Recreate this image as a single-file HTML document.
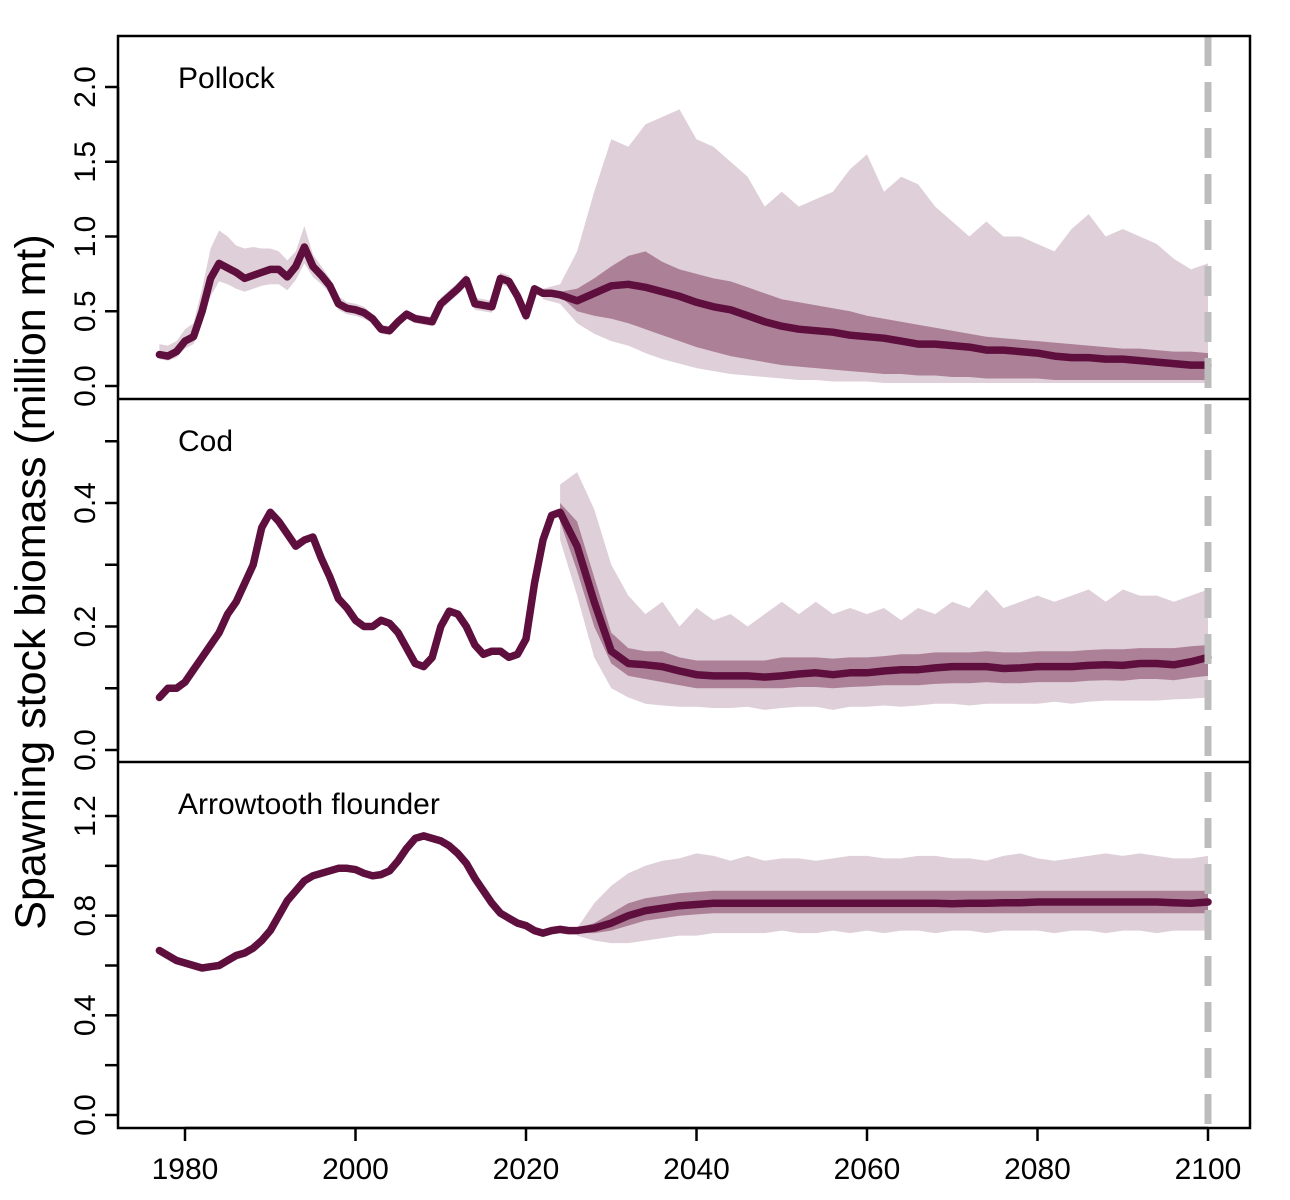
<!DOCTYPE html>
<html><head><meta charset="utf-8">
<style>
html,body{margin:0;padding:0;background:#fff;}
svg{display:block;font-family:"Liberation Sans",Arial,sans-serif;}
</style></head>
<body>
<svg id="chart" width="1290" height="1200" viewBox="0 0 1290 1200" xmlns="http://www.w3.org/2000/svg"></svg>
<script>
// ---- data ----
const histYears = [];
for (let y = 1977; y <= 2024; y++) histYears.push(y);
const projYearsP = []; for (let y = 2022; y <= 2100; y += 2) projYearsP.push(y);
const projYearsC = []; for (let y = 2024; y <= 2100; y += 2) projYearsC.push(y);
const arrowHistYears = []; for (let y = 1977; y <= 2026; y++) arrowHistYears.push(y);
const projYearsA = []; for (let y = 2026; y <= 2100; y += 2) projYearsA.push(y);

const pollockHist = [0.21,0.2,0.23,0.3,0.33,0.5,0.72,0.82,0.79,0.76,0.72,0.74,0.76,0.78,0.78,0.73,0.8,0.93,0.8,0.74,0.67,0.55,0.52,0.51,0.49,0.45,0.38,0.37,0.43,0.48,0.45,0.44,0.43,0.55,0.6,0.65,0.71,0.55,0.54,0.53,0.72,0.7,0.6,0.47,0.65,0.62,0.62,0.61];
const pollockHistHi = [0.28,0.27,0.3,0.38,0.42,0.65,0.92,1.04,1.0,0.94,0.92,0.93,0.92,0.92,0.9,0.84,0.9,1.07,0.88,0.8,0.72,0.6,0.56,0.55,0.53,0.48,0.41,0.4,0.46,0.51,0.48,0.47,0.46,0.59,0.64,0.69,0.75,0.59,0.58,0.57,0.76,0.74,0.64,0.51,0.67,0.64,0.64,0.63];
const pollockHistLo = [0.18,0.17,0.19,0.25,0.28,0.42,0.6,0.7,0.68,0.65,0.63,0.65,0.67,0.68,0.68,0.64,0.71,0.82,0.73,0.68,0.62,0.51,0.48,0.47,0.45,0.42,0.35,0.34,0.4,0.45,0.42,0.41,0.4,0.51,0.56,0.61,0.67,0.51,0.5,0.49,0.68,0.66,0.56,0.43,0.63,0.6,0.6,0.59];
const pollockMed = [0.62,0.61,0.57,0.62,0.67,0.68,0.66,0.63,0.6,0.56,0.53,0.51,0.47,0.43,0.4,0.38,0.37,0.36,0.34,0.33,0.32,0.3,0.28,0.28,0.27,0.26,0.24,0.24,0.23,0.22,0.2,0.19,0.19,0.18,0.18,0.17,0.16,0.15,0.14,0.14];
const pollockHi95 = [0.65,0.68,0.9,1.3,1.65,1.6,1.75,1.8,1.85,1.65,1.6,1.5,1.4,1.2,1.3,1.2,1.25,1.3,1.45,1.55,1.3,1.4,1.35,1.2,1.1,1.0,1.1,1.0,1.0,0.95,0.9,1.05,1.15,1.0,1.05,1.0,0.95,0.85,0.78,0.82];
const pollockHi50 = [0.63,0.63,0.65,0.72,0.8,0.87,0.9,0.83,0.78,0.75,0.72,0.7,0.66,0.62,0.58,0.56,0.54,0.52,0.5,0.47,0.45,0.43,0.41,0.39,0.37,0.35,0.33,0.32,0.31,0.3,0.29,0.28,0.27,0.26,0.25,0.25,0.24,0.23,0.23,0.22];
const pollockLo50 = [0.6,0.6,0.5,0.47,0.45,0.42,0.38,0.34,0.3,0.26,0.23,0.2,0.18,0.16,0.14,0.13,0.12,0.11,0.1,0.09,0.08,0.08,0.07,0.07,0.06,0.06,0.05,0.05,0.05,0.05,0.04,0.04,0.04,0.04,0.04,0.04,0.04,0.04,0.04,0.04];
const pollockLo95 = [0.58,0.55,0.42,0.35,0.3,0.27,0.22,0.18,0.15,0.12,0.1,0.08,0.07,0.06,0.05,0.04,0.04,0.03,0.03,0.03,0.02,0.02,0.02,0.02,0.02,0.02,0.02,0.02,0.02,0.02,0.02,0.02,0.02,0.02,0.02,0.02,0.02,0.02,0.02,0.02];

const codHist = [0.085,0.1,0.1,0.11,0.13,0.15,0.17,0.19,0.22,0.24,0.27,0.3,0.36,0.385,0.37,0.35,0.33,0.34,0.345,0.31,0.28,0.245,0.23,0.21,0.2,0.2,0.21,0.205,0.19,0.165,0.14,0.135,0.15,0.2,0.225,0.22,0.2,0.17,0.155,0.16,0.16,0.15,0.155,0.18,0.27,0.34,0.38,0.385];
const codMed = [0.385,0.33,0.24,0.16,0.14,0.138,0.135,0.128,0.122,0.12,0.12,0.12,0.118,0.12,0.123,0.125,0.122,0.125,0.125,0.128,0.13,0.13,0.133,0.135,0.135,0.135,0.132,0.133,0.135,0.135,0.135,0.137,0.138,0.137,0.14,0.14,0.138,0.143,0.15];
const codHi95 = [0.43,0.45,0.39,0.3,0.25,0.22,0.24,0.2,0.23,0.21,0.22,0.2,0.22,0.24,0.22,0.24,0.22,0.23,0.22,0.23,0.21,0.23,0.22,0.24,0.23,0.26,0.23,0.24,0.25,0.24,0.25,0.26,0.24,0.26,0.25,0.25,0.24,0.25,0.26];
const codHi50 = [0.4,0.37,0.28,0.19,0.165,0.16,0.16,0.15,0.145,0.145,0.145,0.145,0.145,0.15,0.15,0.15,0.148,0.15,0.15,0.152,0.155,0.155,0.158,0.158,0.158,0.16,0.158,0.158,0.16,0.16,0.16,0.162,0.163,0.163,0.165,0.165,0.165,0.168,0.17];
const codLo50 = [0.37,0.29,0.2,0.14,0.12,0.115,0.11,0.105,0.1,0.1,0.1,0.1,0.1,0.1,0.102,0.102,0.1,0.102,0.103,0.105,0.105,0.105,0.107,0.108,0.108,0.11,0.108,0.108,0.11,0.11,0.11,0.112,0.113,0.112,0.115,0.115,0.113,0.117,0.12];
const codLo95 = [0.34,0.25,0.15,0.1,0.085,0.075,0.072,0.07,0.07,0.068,0.068,0.07,0.065,0.068,0.07,0.07,0.065,0.07,0.07,0.072,0.07,0.072,0.075,0.075,0.072,0.075,0.075,0.075,0.075,0.078,0.075,0.078,0.08,0.08,0.08,0.08,0.082,0.083,0.085];

const arrowHist = [0.66,0.64,0.62,0.61,0.6,0.59,0.595,0.6,0.62,0.64,0.65,0.67,0.7,0.74,0.8,0.86,0.9,0.94,0.96,0.97,0.98,0.99,0.99,0.985,0.97,0.96,0.965,0.98,1.02,1.07,1.11,1.12,1.11,1.1,1.08,1.05,1.01,0.95,0.9,0.85,0.81,0.79,0.77,0.76,0.74,0.73,0.74,0.745,0.74,0.74];
const arrowMed = [0.74,0.75,0.77,0.8,0.82,0.83,0.84,0.845,0.85,0.85,0.85,0.85,0.85,0.85,0.85,0.85,0.85,0.85,0.85,0.85,0.85,0.85,0.848,0.85,0.85,0.852,0.852,0.855,0.855,0.855,0.855,0.855,0.855,0.855,0.855,0.852,0.85,0.855];
const arrowHi95 = [0.75,0.85,0.92,0.97,1.0,1.02,1.03,1.05,1.04,1.02,1.04,1.02,1.03,1.03,1.02,1.03,1.04,1.04,1.03,1.03,1.04,1.04,1.03,1.03,1.02,1.04,1.05,1.03,1.02,1.03,1.04,1.05,1.04,1.05,1.04,1.03,1.03,1.04];
const arrowHi50 = [0.75,0.77,0.81,0.85,0.87,0.88,0.89,0.895,0.9,0.9,0.9,0.9,0.9,0.9,0.9,0.9,0.9,0.9,0.9,0.9,0.9,0.9,0.9,0.9,0.9,0.9,0.9,0.9,0.9,0.9,0.9,0.9,0.9,0.9,0.9,0.9,0.9,0.9];
const arrowLo50 = [0.73,0.73,0.74,0.76,0.78,0.79,0.8,0.805,0.81,0.81,0.81,0.81,0.81,0.81,0.81,0.81,0.81,0.81,0.81,0.81,0.81,0.81,0.81,0.81,0.81,0.81,0.81,0.81,0.81,0.81,0.81,0.81,0.81,0.81,0.81,0.81,0.81,0.81];
const arrowLo95 = [0.72,0.7,0.69,0.69,0.7,0.71,0.72,0.72,0.73,0.73,0.73,0.73,0.74,0.73,0.73,0.74,0.73,0.74,0.73,0.74,0.74,0.73,0.74,0.74,0.73,0.74,0.74,0.74,0.73,0.74,0.74,0.73,0.74,0.74,0.73,0.74,0.74,0.74];

const xTicks = [1980,2000,2020,2040,2060,2080,2100];

// ---- layout ----
const NS = "http://www.w3.org/2000/svg";
const svg = document.getElementById('chart');
const X0 = 118, X1 = 1250;
const xs = yr => 185 + (yr - 1980) * (1208 - 185) / 120;
function el(tag, attrs, parent) {
  const e = document.createElementNS(NS, tag);
  for (const k in attrs) e.setAttribute(k, attrs[k]);
  (parent || svg).appendChild(e);
  return e;
}
const panels = [
  {name:'pollock', label:'Pollock', top:36, bot:399, y0:386, perUnit:(386-87)/2.0, ticks:[0,0.5,1,1.5,2], labels:[0,0.5,1,1.5,2],
   hy:histYears, hv:pollockHist, hhi:pollockHistHi, hlo:pollockHistLo, py:projYearsP, med:pollockMed, hi95:pollockHi95, hi50:pollockHi50, lo50:pollockLo50, lo95:pollockLo95},
  {name:'cod', label:'Cod', top:399, bot:762, y0:750, perUnit:(750-503)/0.4, ticks:[0,0.1,0.2,0.3,0.4,0.5], labels:[0,0.2,0.4],
   hy:histYears, hv:codHist, py:projYearsC, med:codMed, hi95:codHi95, hi50:codHi50, lo50:codLo50, lo95:codLo95},
  {name:'arrowtooth', label:'Arrowtooth flounder', top:762, bot:1128, y0:1115, perUnit:(1115-816)/1.2, ticks:[0,0.2,0.4,0.6,0.8,1.0,1.2], labels:[0,0.4,0.8,1.2],
   hy:arrowHistYears, hv:arrowHist, py:projYearsA, med:arrowMed, hi95:arrowHi95, hi50:arrowHi50, lo50:arrowLo50, lo95:arrowLo95}
];

panels.forEach(p => {
  const g = el('g', {});
  
  
  const ys = v => p.y0 - v * p.perUnit;
  const clipId = 'clip-' + p.name;
  const cp = el('clipPath', {id: clipId}, g);
  el('rect', {x:X0, y:p.top, width:X1-X0, height:p.bot-p.top}, cp);
  const plot = el('g', {'clip-path':'url(#'+clipId+')'}, g);
  function band(yrs, lo, hi, fill, nm) {
    let d = '';
    yrs.forEach((yr, i) => { d += (i ? 'L' : 'M') + xs(yr).toFixed(1) + ',' + ys(hi[i]).toFixed(1); });
    for (let i = yrs.length - 1; i >= 0; i--) d += 'L' + xs(yrs[i]).toFixed(1) + ',' + ys(lo[i]).toFixed(1);
    const b = el('path', {d: d + 'Z', fill: fill}, plot);
    
    
  }
  if (p.hhi) band(p.hy, p.hlo, p.hhi, '#dfcfd8', p.name + '-historical-band');
  band(p.py, p.lo95, p.hi95, '#dfcfd8', p.name + '-outer-band');
  band(p.py, p.lo50, p.hi50, '#ac8198', p.name + '-inner-band');
  const pts = [];
  p.hv.forEach((v, i) => pts.push([xs(p.hy[i]), ys(v)]));
  const lastHist = p.hy[p.hy.length - 1];
  p.med.forEach((v, i) => { if (p.py[i] > lastHist) pts.push([xs(p.py[i]), ys(v)]); });
  const line = el('polyline', {points: pts.map(q => q[0].toFixed(1)+','+q[1].toFixed(1)).join(' '), fill:'none', stroke:'#5e0f3e', 'stroke-width':7.5, 'stroke-linejoin':'round', 'stroke-linecap':'round'}, plot);
  
  
  // y axis
  const yTop = ys(p.ticks[p.ticks.length-1]);
  el('line', {x1:X0, x2:X0, y1:ys(p.ticks[0]), y2:yTop, stroke:'#000', 'stroke-width':2.5}, g);
  p.ticks.forEach(t => {
    el('line', {x1:X0-13, x2:X0, y1:ys(t), y2:ys(t), stroke:'#000', 'stroke-width':2.5}, g);
  });
  p.labels.forEach(t => {
    const y = ys(t);
    const tx = el('text', {x:0, y:0, transform:'translate(95,'+y.toFixed(1)+') rotate(-90)', 'text-anchor':'middle', 'font-size':30, fill:'#000'}, g);
    tx.textContent = t.toFixed(1);
    
    
  });
  const lab = el('text', {x:178, y:p.top + 52, 'font-size':30, fill:'#000'}, g);
  lab.textContent = p.label;
  
  
});

// dashed reference line at 2100
const dl = el('line', {x1:xs(2100), x2:xs(2100), y1:36, y2:1128, stroke:'#bdbdbd', 'stroke-width':7, 'stroke-dasharray':'30,16'});



// frames
const fr = el('rect', {x:X0, y:36, width:X1-X0, height:1128-36, fill:'none', stroke:'#000', 'stroke-width':2.5});


[399, 762].forEach(y => el('line', {x1:X0, x2:X1, y1:y, y2:y, stroke:'#000', 'stroke-width':2.5}));

// x axis
el('line', {x1:xs(xTicks[0]), x2:xs(xTicks[xTicks.length-1]), y1:1128, y2:1128, stroke:'#000', 'stroke-width':2.5});
xTicks.forEach(t => {
  el('line', {x1:xs(t), x2:xs(t), y1:1128, y2:1141, stroke:'#000', 'stroke-width':2.5});
  const tx = el('text', {x:xs(t), y:1179, 'text-anchor':'middle', 'font-size':30, fill:'#000'});
  tx.textContent = t;
  
  
});

const yt = el('text', {x:0, y:0, transform:'translate(45,582) rotate(-90)', 'text-anchor':'middle', 'font-size':43, fill:'#000'});
yt.textContent = 'Spawning stock biomass (million mt)';


</script>
</body></html>
